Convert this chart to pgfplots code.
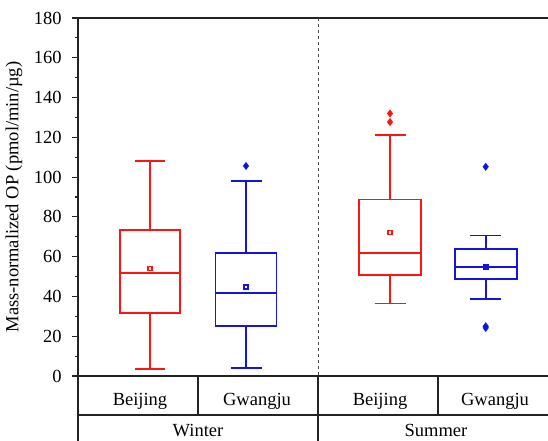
\documentclass[border=0pt]{standalone}
\usepackage{pgfplots}
\pgfplotsset{compat=1.18}
\usepgfplotslibrary{statistics}
\usepackage{fontspec}
\setmainfont{Liberation Serif}
\definecolor{bred}{RGB}{255,20,20}
\definecolor{bblue}{RGB}{20,20,225}
\definecolor{oblue}{RGB}{0,0,200}
\definecolor{axc}{RGB}{35,35,35}
\begin{document}
\fontsize{18.5}{22}\selectfont
\begin{tikzpicture}
\begin{axis}[
  scale only axis, width=470pt, height=358pt,
  xmin=78, xmax=548, ymin=0, ymax=180,
  axis x line=none, axis y line*=left,
  clip=false,
  xtick=\empty,
  ytick={0,20,...,180}, minor y tick num=1,
  tick align=outside, major tick length=6pt, minor tick length=3pt,
  tick style={axc, line width=1.1pt},
  axis line style={axc, line width=1.3pt},
  /pgf/number format/assume math mode=true,
  ticklabel style={font=\fontsize{18.5}{22}\selectfont},
  yticklabel style={xshift=-4pt},
  ylabel={Mass-normalized OP (pmol/min/\textmu g)},
  ylabel style={font=\fontsize{18.5}{22}\selectfont, yshift=-1pt},
  boxplot/draw direction=y,
  boxplot/every box/.style={draw, line width=1.8pt},
  boxplot/every median/.style={line width=1.8pt},
  boxplot/every whisker/.style={line width=1.8pt},
]
\coordinate (BL) at (rel axis cs:0,0);
% frame lines
\draw[axc, line width=1.3pt] (axis cs:78,180) -- (axis cs:560,180);
\draw[axc, line width=1.3pt] (axis cs:72,0) -- (axis cs:560,0);
\draw[axc, line width=1.3pt] (axis cs:78,0) -- (axis cs:78,-36);
\draw[axc, line width=1.1pt] (axis cs:78,-19.6) -- (axis cs:560,-19.6);
\draw[axc, line width=1.1pt] (axis cs:198,0) -- (axis cs:198,-19.6);
\draw[axc, line width=1.1pt] (axis cs:438,0) -- (axis cs:438,-19.6);
\draw[axc, line width=1.1pt] (axis cs:318,0) -- (axis cs:318,-36);
\draw[black!70, line width=1pt, dash pattern=on 3pt off 3pt] (axis cs:318,180) -- (axis cs:318,0);
% labels
\node[anchor=base] at (axis cs:140,-14.6) {Beijing};
\node[anchor=base] at (axis cs:257,-14.6) {Gwangju};
\node[anchor=base] at (axis cs:380,-14.6) {Beijing};
\node[anchor=base] at (axis cs:495,-14.6) {Gwangju};
\node[anchor=base] at (axis cs:198,-30.6) {Winter};
\node[anchor=base] at (axis cs:436,-30.6) {Summer};
% boxes
\addplot[bred, solid, line width=1.8pt, mark=diamond*, mark size=2.6pt,
  boxplot prepared={draw position=150, box extend=60.7, whisker extend=30.7,
    median=51.6, upper quartile=73.4, lower quartile=31.5,
    upper whisker=108.1, lower whisker=3.4, average=54.1,
    every average/.style={/tikz/mark=square, /tikz/mark size=2pt,
      /tikz/mark options={solid, draw=bred!75, fill=white, line width=0.5pt}}}]
  coordinates {};
\addplot[oblue, draw=bblue, solid, line width=1.8pt, mark=diamond*, mark size=2.6pt,
  boxplot prepared={draw position=246, box extend=61, whisker extend=31,
    median=41.6, upper quartile=62.0, lower quartile=25.1,
    upper whisker=98.2, lower whisker=4.2, average=44.9,
    every average/.style={/tikz/mark=square, /tikz/mark size=2pt,
      /tikz/mark options={solid, draw=bblue!75, fill=white, line width=0.5pt}}}]
  table[row sep=\\, y index=0] {v\\ 105.6\\};
\addplot[bred, solid, line width=1.8pt, mark=diamond*, mark size=2.6pt,
  boxplot prepared={draw position=390, box extend=61.5, whisker extend=31,
    median=61.7, upper quartile=88.7, lower quartile=50.8,
    upper whisker=121.2, lower whisker=36.5, average=72.2,
    every average/.style={/tikz/mark=square, /tikz/mark size=2pt,
      /tikz/mark options={solid, draw=bred!75, fill=white, line width=0.5pt}}}]
  table[row sep=\\, y index=0] {v\\ 127.7\\ 132.0\\};
\addplot[oblue, draw=bblue, solid, line width=1.8pt, mark=diamond*, mark size=2.6pt,
  boxplot prepared={draw position=485.7, box extend=62, whisker extend=31,
    median=54.8, upper quartile=63.7, lower quartile=48.6,
    upper whisker=70.6, lower whisker=38.9, average=54.8,
    every average/.style={/tikz/mark=square, /tikz/mark size=2pt,
      /tikz/mark options={solid, draw=bblue!75, fill=white, line width=0.5pt}}}]
  table[row sep=\\, y index=0] {v\\ 105.2\\ 24.2\\ 25.0\\};
\end{axis}
\pgfresetboundingbox
\path[use as bounding box] ([xshift=-78pt,yshift=-64pt]BL) rectangle ([xshift=470pt,yshift=376pt]BL);
\end{tikzpicture}
\end{document}
